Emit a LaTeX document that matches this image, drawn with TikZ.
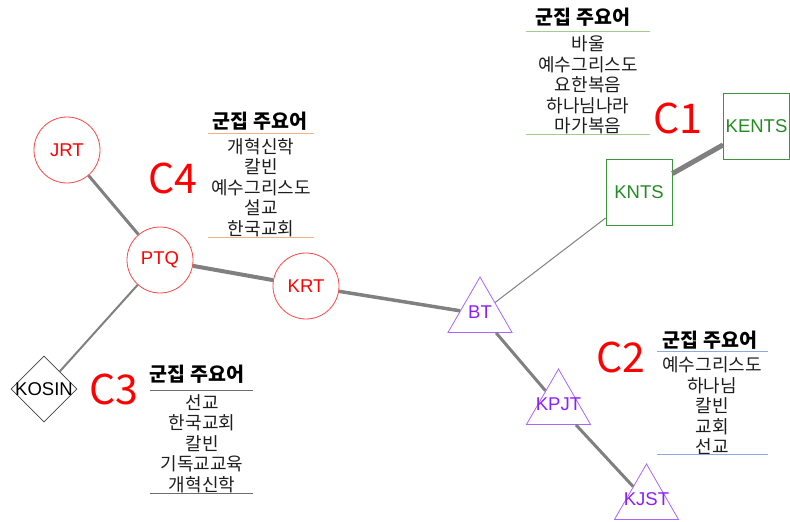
\documentclass[tikz,border=0pt]{standalone}
\usepackage{fontspec}
\setmainfont{Noto Sans CJK KR}
\newfontfamily\latf{Liberation Sans}
\usetikzlibrary{shapes.geometric}
\definecolor{nred}{RGB}{255,0,0}
\definecolor{cstroke}{RGB}{255,70,70}
\definecolor{gtext}{RGB}{34,139,34}
\definecolor{gstroke}{RGB}{60,150,60}
\definecolor{ptext}{RGB}{140,30,255}
\definecolor{pstroke}{RGB}{170,100,255}
\definecolor{edgec}{RGB}{128,128,128}
\definecolor{lgreen}{RGB}{160,205,140}
\definecolor{lorange}{RGB}{244,177,131}
\definecolor{lgray}{RGB}{110,110,110}
\definecolor{lblue}{RGB}{142,170,219}
\definecolor{txt}{RGB}{30,30,30}
\begin{document}
\begin{tikzpicture}[x=1pt,y=-1pt,
 lab/.style={font=\latf\fontsize{18.5}{18.5}\selectfont},
 circ/.style={circle,draw=cstroke,line width=0.8pt,minimum size=66pt,inner sep=0pt,text=nred,lab},
 sq/.style={rectangle,draw=gstroke,line width=0.8pt,minimum size=66pt,inner sep=0pt,text=gtext,lab},
 tri/.style={regular polygon,regular polygon sides=3,draw=pstroke,line width=0.8pt,minimum size=74pt,inner sep=0pt,text=ptext,lab},
 dia/.style={diamond,draw=black!75,line width=0.8pt,minimum width=66pt,minimum height=66pt,inner sep=0pt,aspect=1,text=black,lab},
 link/.style={draw=edgec},
 head/.style={font=\bfseries\fontsize{19.5}{19.5}\selectfont,text=black,inner sep=0pt},
 items/.style={align=center,font=\fontsize{18}{20.5}\selectfont,text=txt,inner sep=0pt},
 clab/.style={text=nred,font=\fontsize{41}{41}\selectfont,inner sep=0pt},
]
\useasboundingbox (0,0) rectangle (790,522);
% nodes
\node[circ] (jrt) at (67,150) {\makebox[0pt]{JRT}};
\node[circ] (ptq) at (160,260) {\makebox[0pt]{PTQ}};
\node[circ] (krt) at (306,286) {\makebox[0pt]{KRT}};
\node[tri] (bt) at (480,314) {\raisebox{4pt}{\makebox[0pt]{BT}}};
\node[tri] (kpjt) at (558.5,406) {\raisebox{4pt}{\makebox[0pt]{KPJT}}};
\node[tri] (kjst) at (646.5,501) {\raisebox{4pt}{\makebox[0pt]{KJST}}};
\node[sq] (knts) at (639,192.5) {\makebox[0pt]{KNTS}};
\node[sq] (kents) at (756.5,126) {\makebox[0pt]{KENTS}};
\node[dia] (kosin) at (44,389) {\makebox[0pt]{KOSIN}};
% edges
\draw[link,line width=3pt] (jrt) -- (ptq);
\draw[link,line width=4pt] (ptq) -- (krt);
\draw[link,line width=3.5pt] (krt) -- (bt);
\draw[link,line width=2pt] (ptq) -- (kosin);
\draw[link,line width=1pt] (bt) -- (knts);
\draw[link,line width=5pt] (knts) -- (kents);
\draw[link,line width=3pt] (bt) -- (kpjt);
\draw[link,line width=3pt] (kpjt) -- (kjst);
% cluster labels
\node[clab] (c1) at (678,118) {C1};
\node[clab] (c2) at (621,357) {C2};
\node[clab] (c3) at (114,389) {C3};
\node[clab] (c4) at (173,178) {C4};
% C1 table
\node[head] (h1) at (583,17) {군집 주요어};
\draw[lgreen,line width=1pt] (526,31.5) -- (650,31.5);
\node[items] (i1) at (588,85) {바울\\예수그리스도\\요한복음\\하나님나라\\마가복음};
\draw[lgreen,line width=1pt] (526,134.5) -- (650,134.5);
% C4 table
\node[head] (h4) at (260,121) {군집 주요어};
\draw[lorange,line width=1pt] (208,133) -- (314,133);
\node[items] (i4) at (261,187.5) {개혁신학\\칼빈\\예수그리스도\\설교\\한국교회};
\draw[lorange,line width=1pt] (208,237) -- (314,237);
% C3 table
\node[head] (h3) at (197,374) {군집 주요어};
\draw[lgray,line width=1pt] (150,390) -- (253,390);
\node[items] (i3) at (202,443.5) {선교\\한국교회\\칼빈\\기독교교육\\개혁신학};
\draw[lgray,line width=1pt] (150,493) -- (253,493);
% C2 table
\node[head] (h2) at (710,340) {군집 주요어};
\draw[lblue,line width=1pt] (657,351) -- (768,351);
\node[items] (i2) at (712,406) {예수그리스도\\하나님\\칼빈\\교회\\선교};
\draw[lblue,line width=1pt] (657,454.5) -- (768,454.5);
\end{tikzpicture}
\end{document}
